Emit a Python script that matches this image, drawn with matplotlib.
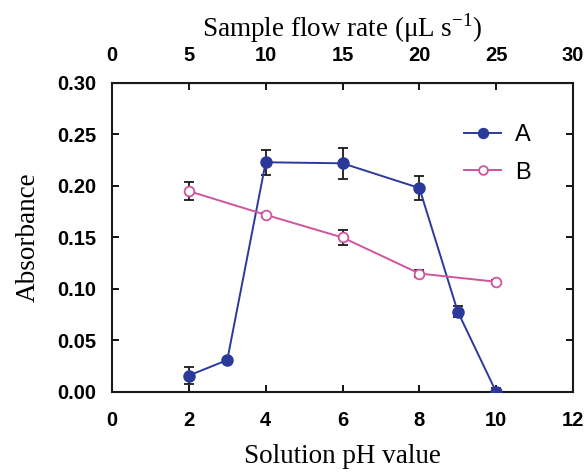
import numpy as np
from matplotlib import pyplot as plt

plt.rcParams['mathtext.fontset'] = 'custom'
plt.rcParams['mathtext.rm'] = 'Liberation Serif'

# pH values and absorbance readings
phA = [2, 3, 4, 6, 8, 9, 10]
absA = [0.016, 0.031, 0.223, 0.222, 0.198, 0.078, 0.0]
errA = [0.008, 0.002, 0.012, 0.015, 0.012, 0.005, 0.004]

phB = [2, 4, 6, 8, 10]
absB = [0.195, 0.172, 0.150, 0.115, 0.107]
errB = [0.009, 0.002, 0.007, 0.003, 0.002]

xticks = [0, 2, 4, 6, 8, 10, 12]
yticks = [0.00, 0.05, 0.10, 0.15, 0.20, 0.25, 0.30]
topticks = [0, 5, 10, 15, 20, 25, 30]

blue = '#2b3a9a'
pink = '#d0549e'

fig = plt.figure(figsize=(5.85, 4.74), dpi=100)
ax = fig.add_axes([0.1915, 0.173, 0.788, 0.652])

ax.errorbar(phA, absA, yerr=errA, fmt='none', ecolor='#1a1a1a', elinewidth=1.3, capsize=3.5, capthick=1.3, zorder=2)
ax.errorbar(phB, absB, yerr=errB, fmt='none', ecolor='#1a1a1a', elinewidth=1.3, capsize=3.5, capthick=1.3, zorder=2)
ax.plot(phA, absA, '-o', color=blue, lw=1.4, ms=8, label='A', zorder=3)
ax.plot(phB, absB, '-o', color=pink, lw=1.4, ms=7, mfc='white', mec=pink, mew=1.3, label='B', zorder=3)

ax.set_xlim(0, 12)
ax.set_ylim(0, 0.30)
ax.set_xticks(xticks)
ax.set_yticks(yticks)
ax.set_yticklabels(['%.2f' % v for v in yticks])

tickfont = dict(family='Liberation Sans', weight='bold', size=14.5)
for label in ax.get_xticklabels() + ax.get_yticklabels():
    label.set_fontproperties(tickfont)
ax.tick_params(direction='in', length=5, width=1.3)
ax.tick_params(axis='x', pad=14)
ax.tick_params(axis='y', pad=11, right=True)

for s in ax.spines.values():
    s.set_linewidth(1.5)
    s.set_color('#1a1a1a')

ax.set_xlabel('Solution pH value', family='Liberation Serif', size=19.5, labelpad=10)
ax.set_ylabel('Absorbance', family='Liberation Serif', size=19.5, labelpad=12)

# secondary top axis for sample flow rate
top = ax.secondary_xaxis('top', functions=(lambda x: x * 2.5, lambda x: x / 2.5))
top.set_xticks(topticks)
for label in top.get_xticklabels():
    label.set_fontproperties(tickfont)
top.tick_params(direction='in', length=5, width=1.3, pad=13)
top.set_xlabel('Sample flow rate (\u03bcL s$^{\\mathrm{-1}}$)', family='Liberation Serif', size=19.5, labelpad=7)

leg = ax.legend(loc='upper left', bbox_to_anchor=(0.7636, 0.867), frameon=False,
                prop=dict(family='Liberation Sans', size=17), handlelength=1.57,
                labelspacing=0.66, handletextpad=0.6, borderpad=0, borderaxespad=0,
                markerscale=0.9)

fig.savefig('out.png', dpi=100)
